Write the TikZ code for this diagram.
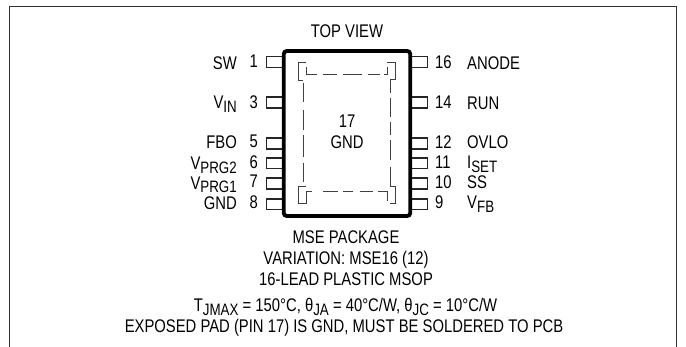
\documentclass[tikz,border=0pt]{standalone}
\usepackage{fontspec}
\setmainfont[FakeStretch=0.81]{Liberation Sans}
\begin{document}
\begin{tikzpicture}[x=1pt,y=-1pt,
  lbl/.style={inner sep=0pt,font=\fontsize{18.3}{19}\selectfont},
  pinl/.style={lbl,anchor=base east},
  pinr/.style={lbl,anchor=base west},
  ctr/.style={lbl,anchor=base,align=center},
  lead/.style={draw=black!85,line width=1.2pt},
  pad/.style={draw=black!75,line width=0.9pt}]
\useasboundingbox (0,0) rectangle (686,347);
\newcommand{\sbs}[1]{\raisebox{-3.5pt}{\fontsize{16.5}{17}\selectfont #1}}
% frame
\draw[black!80,line width=1.4pt] (9.5,347) -- (9.5,6.5) -- (676.5,6.5) -- (676.5,347);
% leads
\foreach \y/\h in {56.5/11,97/11,138/11,158/10.5,178/11,199/10.5}{
  \draw[lead] (283,\y) -- (266.5,\y) -- (266.5,\y+\h) -- (283,\y+\h);
  \draw[lead] (411,\y) -- (427.5,\y) -- (427.5,\y+\h) -- (411,\y+\h);
}
% package
\node[draw,line width=3.8pt,rounded corners=3pt,minimum width=126.5pt,minimum height=165pt,inner sep=0pt,anchor=center] (pkg) at (347,133.5) {};
% exposed pad outline: corners
\draw[pad] (306,62) -- (298,62) -- (298,80) -- (303,80);
\draw[pad] (306,67) -- (306,74) -- (316.5,74);
\draw[pad] (387,62) -- (395,62) -- (395,79) -- (390,79);
\draw[pad] (387,67) -- (387,74) -- (384,74);
\draw[pad] (306,186) -- (298,186) -- (298,203) -- (306,203) -- (306,191) -- (312,191);
\draw[pad] (390,186) -- (395,186) -- (395,203) -- (390,203);
\draw[pad] (387,201.5) -- (387,191) -- (378,191);
% exposed pad outline: dashes
\draw[pad] (323,74) -- (337,74) (343,74) -- (362,74) (368,74) -- (380,74);
\draw[pad] (323,191) -- (338,191) (343,191) -- (353,191) (360,191) -- (373,191);
\draw[pad] (303,83) -- (303,102) (303,110) -- (303,130) (303,135) -- (303,157) (303,163) -- (303,182);
\draw[pad] (390,79) -- (390,93) (390,98) -- (390,117) (390,122) -- (390,135) (390,140) -- (390,160) (390,167) -- (390,186);
% texts
\node[ctr] (tv) at (347,38) {TOP VIEW};
\node[ctr] (n17) at (347,128) {17};
\node[ctr] (ngnd) at (347,149) {GND};
\node[pinl] (l1) at (237,70) {SW};
\node[pinl] (l3) at (237,109) {V\sbs{IN}};
\node[pinl] (l5) at (237,149) {FBO};
\node[pinl] (l6) at (237,170) {V\sbs{PRG2}};
\node[pinl] (l7) at (237,189.5) {V\sbs{PRG1}};
\node[pinl] (l8) at (237,209.5) {GND};
\node[pinl] (n1) at (258,68) {1};
\node[pinl] (n3) at (258,109) {3};
\node[pinl] (n5) at (258,148) {5};
\node[pinl] (n6) at (258,169) {6};
\node[pinl] (n7) at (258,188) {7};
\node[pinl] (n8) at (258,209) {8};
\node[pinr] (n16) at (435,69) {16};
\node[pinr] (n14) at (435,109) {14};
\node[pinr] (n12) at (435,149) {12};
\node[pinr] (n11) at (435,169) {11};
\node[pinr] (n10) at (435,189) {10};
\node[pinr] (n9) at (435,209) {9};
\node[pinr] (r16) at (467,70) {ANODE};
\node[pinr] (r14) at (467,110) {RUN};
\node[pinr] (r12) at (467,149) {OVLO};
\node[pinr] (r11) at (467,169) {I\sbs{SET}};
\node[pinr] (r10) at (467,189) {SS};
\node[pinr] (r9) at (467,209) {V\sbs{FB}};
\node[ctr] (t1) at (346,244) {MSE PACKAGE};
\node[ctr] (t2) at (346,265) {VARIATION: MSE16 (12)};
\node[ctr] (t3) at (346,286) {16-LEAD PLASTIC MSOP};
\node[ctr] (t4) at (345.5,312) {T\sbs{JMAX} = 150°C, θ\sbs{JA} = 40°C/W, θ\sbs{JC} = 10°C/W};
\node[ctr] (t5) at (344,333) {EXPOSED PAD (PIN 17) IS GND, MUST BE SOLDERED TO PCB};
\end{tikzpicture}
\end{document}
